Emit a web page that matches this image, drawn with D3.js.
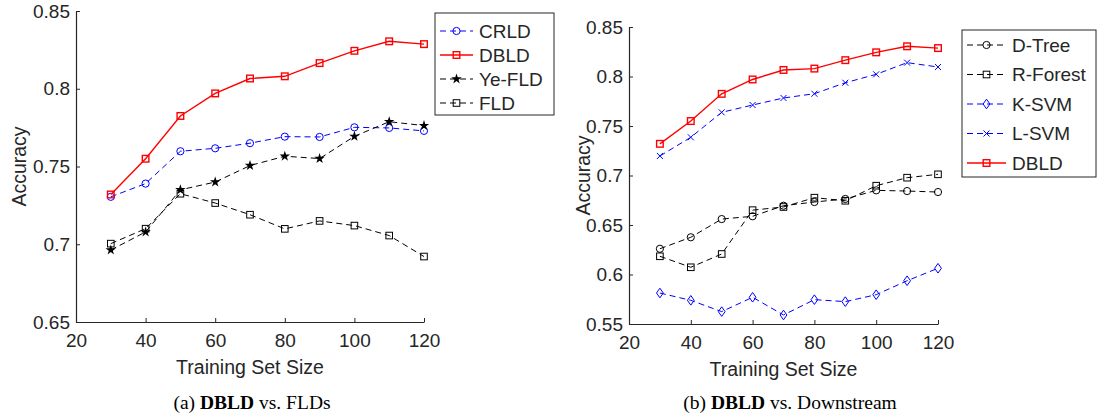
<!DOCTYPE html>
<html>
<head>
<meta charset="utf-8">
<script src="https://cdn.jsdelivr.net/npm/d3@7"></script>
<style>
  body { margin: 0; background: #fff; }
  svg text { font-family: "Liberation Sans", Arial, sans-serif; fill: #262626; }
  .caption text, text.caption { font-family: "Liberation Serif", "Times New Roman", serif; fill: #000; }
</style>
</head>
<body>
<svg width="1097" height="419"></svg>
<script>
// training set sizes on the x axis
const sizes = [30, 40, 50, 60, 70, 80, 90, 100, 110, 120];
const xTicks = [20, 40, 60, 80, 100, 120];

// accuracy values
const dbld    = [0.732, 0.755, 0.7825, 0.797, 0.8066, 0.808, 0.8165, 0.8244, 0.8305, 0.8287];
const crld    = [0.7305, 0.739, 0.7598, 0.7617, 0.765, 0.7692, 0.769, 0.7752, 0.7748, 0.7729];
const yeFld   = [0.6963, 0.7079, 0.735, 0.740, 0.7506, 0.7566, 0.7551, 0.7694, 0.7788, 0.7763];
const fld     = [0.7004, 0.710, 0.7325, 0.7265, 0.719, 0.7099, 0.715, 0.712, 0.7056, 0.6921];
const dTree   = [0.626, 0.6376, 0.656, 0.6588, 0.6695, 0.6732, 0.6763, 0.685, 0.6843, 0.6833];
const rForest = [0.6184, 0.6073, 0.6207, 0.665, 0.6682, 0.6776, 0.6745, 0.6897, 0.6978, 0.7012];
const kSvm    = [0.5813, 0.5739, 0.5625, 0.577, 0.5591, 0.5746, 0.5726, 0.5796, 0.5937, 0.6063];
const lSvm    = [0.7197, 0.7386, 0.7638, 0.7712, 0.7783, 0.7826, 0.7937, 0.8022, 0.814, 0.8096];

const ticksA = [0.65, 0.7, 0.75, 0.8, 0.85];
const ticksB = [0.55, 0.6, 0.65, 0.7, 0.75, 0.8, 0.85];

let svg = d3.select("svg");

// marker shapes drawn around (0,0)
function drawMarker(g, shape, color) {
    if (shape == "circle") {
        g.append("circle").attr("r", 3.6).attr("fill", "none").attr("stroke", color).attr("stroke-width", 1);
    } else if (shape == "square") {
        g.append("rect").attr("x", -3.3).attr("y", -3.3).attr("width", 6.6).attr("height", 6.6)
            .attr("fill", "none").attr("stroke", color).attr("stroke-width", color == "red" ? 1.4 : 1);
    } else if (shape == "star") {
        g.append("path").attr("d", d3.symbol().type(d3.symbolStar).size(34)()).attr("fill", color);
    } else if (shape == "diamond") {
        g.append("path").attr("d", "M0,-4.8L3.4,0L0,4.8L-3.4,0Z").attr("fill", "none").attr("stroke", color).attr("stroke-width", 1);
    } else if (shape == "x") {
        g.append("path").attr("d", "M-3,-3L3,3M-3,3L3,-3").attr("stroke", color).attr("stroke-width", 1);
    }
}

// draws one panel: axes, lines, markers, legend
function panel(opt) {
    let x = d3.scaleLinear().domain([20, 120]).range([opt.left, opt.right]);
    let y = d3.scaleLinear().domain(opt.yDomain).range([opt.bottom, opt.top]);
    let g = svg.append("g");

    // x axis with inward ticks
    let xa = g.append("g").attr("transform", "translate(0," + opt.bottom + ")")
        .call(d3.axisBottom(x).tickValues(xTicks).tickSizeInner(-4).tickSizeOuter(0).tickPadding(8));
    let ya = g.append("g").attr("transform", "translate(" + opt.left + ",0)")
        .call(d3.axisLeft(y).tickValues(opt.yTicks).tickFormat(d3.format("")).tickSizeInner(-4).tickSizeOuter(0).tickPadding(6));
    [xa, ya].forEach(a => {
        a.select(".domain").attr("stroke", "#262626").attr("stroke-width", 1.2);
        a.selectAll(".tick line").attr("stroke", "#262626");
        a.selectAll("text").attr("font-size", 19).attr("fill", "#262626")
            .attr("font-family", "Liberation Sans, Arial, sans-serif");
    });
    xa.selectAll("text").attr("dy", "0.9em");

    // axis titles
    g.append("text").attr("x", (opt.left + opt.right) / 2).attr("y", opt.bottom + 52)
        .attr("text-anchor", "middle").attr("font-size", 19.5).text("Training Set Size");
    g.append("text").attr("transform", "translate(" + opt.yTitleX + "," + ((opt.top + opt.bottom) / 2) + ") rotate(-90)")
        .attr("text-anchor", "middle").attr("font-size", 19.5).text("Accuracy");

    // series
    let line = d3.line().x((d, i) => x(sizes[i])).y(d => y(d));
    opt.series.forEach(s => {
        g.append("path").datum(s.values).attr("d", line).attr("fill", "none")
            .attr("stroke", s.color).attr("stroke-width", s.dash ? 1 : 1.4)
            .attr("stroke-dasharray", s.dash ? "6,4" : null);
        s.values.forEach((v, i) => {
            let m = g.append("g").attr("transform", "translate(" + x(sizes[i]) + "," + y(v) + ")");
            drawMarker(m, s.shape, s.color);
        });
    });

    // legend
    let lg = opt.legend;
    g.append("rect").attr("x", lg.x).attr("y", lg.y).attr("width", lg.w).attr("height", lg.h)
        .attr("fill", "#fff").attr("stroke", "#262626").attr("stroke-width", 1);
    opt.series.forEach((s, k) => {
        let cy = lg.first + k * lg.step;
        g.append("line").attr("x1", lg.x + 5).attr("x2", lg.x + lg.lineW).attr("y1", cy).attr("y2", cy)
            .attr("stroke", s.color).attr("stroke-width", s.dash ? 1 : 1.4)
            .attr("stroke-dasharray", s.dash ? "6,4" : null);
        let m = g.append("g").attr("transform", "translate(" + (lg.x + 5 + (lg.lineW - 5) / 2) + "," + cy + ")");
        drawMarker(m, s.shape, s.color);
        g.append("text").attr("x", lg.x + lg.lineW + 6).attr("y", cy).attr("dy", "0.36em")
            .attr("font-size", 19).attr("fill", "#000").text(s.name);
    });

    // caption
    let cap = g.append("text").attr("class", "caption").attr("x", opt.capX).attr("y", 409)
        .attr("text-anchor", "middle").attr("font-size", 19.5);
    cap.append("tspan").text(opt.capPrefix + " ");
    cap.append("tspan").attr("font-weight", "bold").text("DBLD");
    cap.append("tspan").text(" vs. " + opt.capRest);
}

panel({
    left: 76, right: 424, top: 11, bottom: 322, yDomain: [0.65, 0.85], yTicks: ticksA, yTitleX: 26,
    series: [
        {name: "CRLD", values: crld, color: "blue", shape: "circle", dash: true},
        {name: "DBLD", values: dbld, color: "red", shape: "square", dash: false},
        {name: "Ye-FLD", values: yeFld, color: "black", shape: "star", dash: true},
        {name: "FLD", values: fld, color: "black", shape: "square", dash: true}
    ],
    legend: {x: 435, y: 13, w: 119, h: 102, first: 31, step: 24, lineW: 38},
    capX: 252, capPrefix: "(a)", capRest: "FLDs"
});

panel({
    left: 629, right: 938, top: 27, bottom: 324, yDomain: [0.55, 0.85], yTicks: ticksB, yTitleX: 590,
    series: [
        {name: "D-Tree", values: dTree, color: "black", shape: "circle", dash: true},
        {name: "R-Forest", values: rForest, color: "black", shape: "square", dash: true},
        {name: "K-SVM", values: kSvm, color: "blue", shape: "diamond", dash: true},
        {name: "L-SVM", values: lSvm, color: "blue", shape: "x", dash: true},
        {name: "DBLD", values: dbld, color: "red", shape: "square", dash: false}
    ],
    legend: {x: 962, y: 30, w: 134, h: 147, first: 45, step: 29.5, lineW: 44},
    capX: 790, capPrefix: "(b)", capRest: "Downstream"
});
</script>
</body>
</html>
